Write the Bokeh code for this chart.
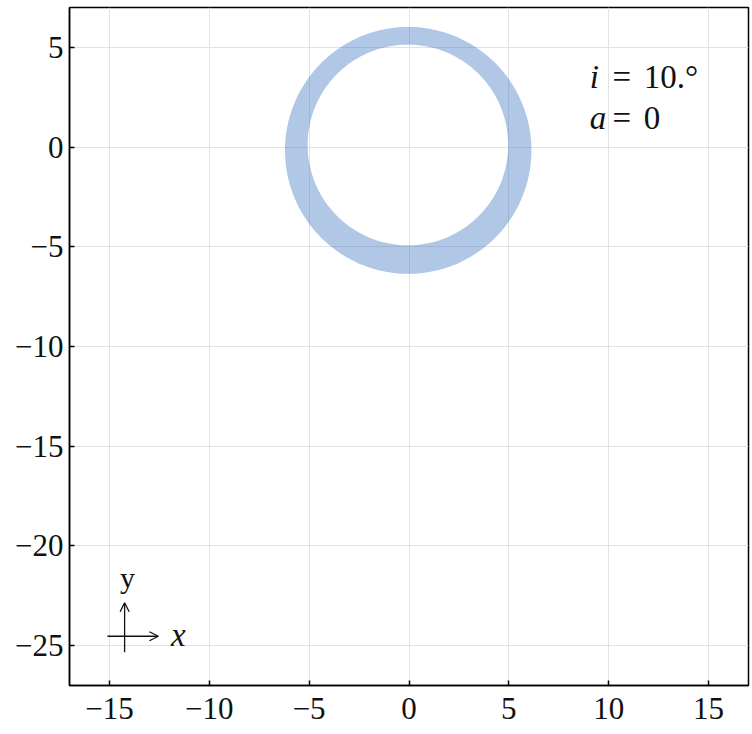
import numpy as np
from bokeh.plotting import figure
from bokeh.models import Range1d, FixedTicker, Label, Arrow, OpenHead
from bokeh.embed import file_html
from bokeh.resources import INLINE

# Axis ticks and their labels (true minus sign)
x_ticks = [-15, -10, -5, 0, 5, 10, 15]
x_tick_labels = ["\u221215", "\u221210", "\u22125", "0", "5", "10", "15"]
y_ticks = [5, 0, -5, -10, -15, -20, -25]
y_tick_labels = ["5", "0", "\u22125", "\u221210", "\u221215", "\u221220", "\u221225"]

# Image of the disk ring: outer and inner boundary (centre x, centre y, semi-axis x, semi-axis y)
outer_edge = [-0.04, -0.165, 6.17, 6.19]
inner_edge = [-0.055, 0.105, 5.02, 5.03]

# Parameters shown in the annotation
inclination_label = "10.\u00b0"
spin_label = "0"

FONT = "Liberation Serif"
INK = "#111111"

p = figure(width=752, height=734, output_backend="svg", toolbar_location=None,
           x_range=Range1d(-17, 17), y_range=Range1d(-27, 7),
           min_border_left=69, min_border_right=4, min_border_top=7,
           min_border_bottom=49)
p.background_fill_color = "white"
p.border_fill_color = "white"
p.outline_line_color = "black"
p.outline_line_width = 1.5

for ax, ticks, labels in ((p.xaxis, x_ticks, x_tick_labels),
                          (p.yaxis, y_ticks, y_tick_labels)):
    ax.ticker = FixedTicker(ticks=ticks)
    ax.major_label_overrides = {t: s for t, s in zip(ticks, labels)}
    ax.major_tick_in = 5
    ax.major_tick_out = 0
    ax.minor_tick_in = 0
    ax.minor_tick_out = 0
    ax.axis_line_color = "black"
    ax.axis_line_width = 1.5
    ax.major_tick_line_color = "black"
    ax.major_tick_line_width = 1.5
    ax.major_label_text_font = FONT
    ax.major_label_text_font_size = "31px"
    ax.major_label_text_color = INK
p.xaxis.major_label_standoff = 12
p.yaxis.major_label_standoff = 6

p.grid.grid_line_color = "#e2e2e2"
p.grid.grid_line_width = 1
p.xgrid.ticker = FixedTicker(ticks=x_ticks)
p.ygrid.ticker = FixedTicker(ticks=y_ticks)


def ellipse_pts(cx, cy, ax_, ay_, n=240):
    t = np.linspace(0, 2 * np.pi, n, endpoint=False)
    return list(cx + ax_ * np.cos(t)), list(cy + ay_ * np.sin(t))


ox, oy = ellipse_pts(*outer_edge)
ix, iy = ellipse_pts(*inner_edge)
p.multi_polygons(xs=[[[ox, ix]]], ys=[[[oy, iy]]],
                 fill_color="#3a73c1", fill_alpha=0.4, line_color=None)


# Annotation of inclination and spin: italic symbol, equals sign, value
def add_math(x, y, var, rest):
    common = dict(x=x, y=y, text_font=FONT, text_font_size="33px",
                  text_color=INK, text_baseline="alphabetic")
    p.add_layout(Label(text=var, text_font_style="italic", **common))
    p.add_layout(Label(text="=", x_offset=32, text_align="center", **common))
    p.add_layout(Label(text=rest, x_offset=54, **common))


add_math(9.05, 3.5, "i", inclination_label)
add_math(9.05, 1.45, "a", spin_label)

# Orientation arrows
p.add_layout(Arrow(x_start=-15.1, y_start=-24.53, x_end=-12.55, y_end=-24.53,
                   line_width=1.3, line_color=INK,
                   end=OpenHead(size=9, line_width=1.3, line_color=INK)))
p.add_layout(Arrow(x_start=-14.24, y_start=-25.33, x_end=-14.24, y_end=-22.85,
                   line_width=1.3, line_color=INK,
                   end=OpenHead(size=9, line_width=1.3, line_color=INK)))
p.add_layout(Label(x=-14.1, y=-21.6, text="y", text_font=FONT, text_font_size="30px",
                   text_color=INK, text_align="center", text_baseline="middle"))
p.add_layout(Label(x=-11.55, y=-24.45, text="x", text_font=FONT, text_font_style="italic",
                   text_font_size="33px", text_color=INK, text_align="center",
                   text_baseline="middle"))

open("out.html", "w").write(file_html(p, INLINE))
